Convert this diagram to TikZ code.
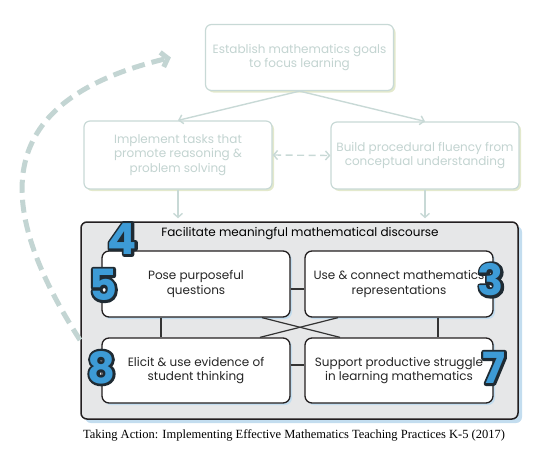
\documentclass[tikz,border=0pt]{standalone}
\usepackage{fontspec}
\setmainfont{Poppins}
\newfontfamily\capfont{Liberation Serif}
\usetikzlibrary{arrows.meta,shadows}

\definecolor{fadeline}{HTML}{C8D9D6}
\definecolor{fadetext}{HTML}{C3D4D1}
\definecolor{fadeshadow}{HTML}{E3E9CC}
\definecolor{loopcol}{HTML}{C3D5D3}
\definecolor{panelfill}{HTML}{E6E7E8}
\definecolor{panelline}{HTML}{231F20}
\definecolor{bluesh}{HTML}{C3DDEF}
\definecolor{digitblue}{HTML}{3D9BD6}

% filled digit with a dark stroked rim
\newcommand{\rimdigit}[1]{\rlap{\special{pdf:literal direct 2 Tr 5 w 1 j 0.12 0.17 0.2 RG}#1\special{pdf:literal direct 0 Tr}}#1}

\begin{document}
\begin{tikzpicture}[x=1pt, y=-1pt,
    every node/.style={font=\fontsize{12}{14.7}\selectfont},
    fadebox/.style={draw=fadeline, line width=1.2pt, rounded corners=6pt, fill=white,
        text=fadetext, align=center, minimum width=188pt, minimum height=66pt,
        drop shadow={shadow xshift=2pt, shadow yshift=-2pt, fill=fadeshadow, opacity=1}},
    fadearrow/.style={draw=fadeline, line width=1.4pt, -{Straight Barb[length=4pt, width=9pt]}},
    panel/.style={draw=panelline, line width=1.5pt, rounded corners=6pt, fill=panelfill,
        minimum width=437pt, minimum height=197pt,
        drop shadow={shadow xshift=4pt, shadow yshift=-4pt, fill=bluesh, opacity=1}},
    practice/.style={draw=panelline, line width=1.3pt, rounded corners=7pt, fill=white,
        text=black!85, align=center, minimum width=188pt, minimum height=66pt,
        drop shadow={shadow xshift=2pt, shadow yshift=-2pt, fill=bluesh, opacity=1}},
    link/.style={draw=black!80, line width=1.2pt},
    digit/.style={font=\fontsize{43}{43}\bfseries\selectfont, text=digitblue, inner sep=0pt}]
    \useasboundingbox (0,0) rectangle (552,474);

    % Faded top practices
    \node[fadebox] (goal) at (299.5,57.5) {Establish mathematics goals\\to focus learning};
    \node[fadebox, minimum height=68pt] (tasks) at (178,155) {Implement tasks that\\promote reasoning \&\\problem solving};
    \node[fadebox, minimum height=67pt] (fluency) at (425,155.5) {Build procedural fluency from\\conceptual understanding};

    % Discourse panel
    \node[panel] (discourse) at (299.5,320.5) {};
    \node (title) at (300,234) {Facilitate meaningful mathematical discourse};

    \node[practice] (pose) at (196,284) {Pose purposeful\\questions};
    \node[practice] (represent) at (399,284) {Use \& connect mathematics\\representations};
    \node[practice, minimum height=65pt] (elicit) at (196,370.5) {Elicit \& use evidence of\\student thinking};
    \node[practice, minimum height=65pt] (struggle) at (399,370.5) {Support productive struggle\\in learning mathematics};

    % Links inside the panel
    \draw[link] ([yshift=-5pt]pose.east) -- ([yshift=-5pt]represent.west);
    \draw[link] ([yshift=5.5pt]elicit.east) -- ([yshift=5.5pt]struggle.west);
    \draw[link] ([xshift=-35pt]pose.south) -- ([xshift=-35pt]elicit.north);
    \draw[link] ([xshift=39pt]represent.south) -- ([xshift=39pt]struggle.north);
    \draw[link] ([xshift=66pt]pose.south) -- ([xshift=-59pt]struggle.north);
    \draw[link] ([xshift=-61pt]represent.south) -- ([xshift=64pt]elicit.north);

    % Arrows between faded boxes
    \draw[fadearrow] (goal.south) -- (tasks.north);
    \draw[fadearrow] (goal.south) -- (fluency.north);
    \draw[fadearrow, {Straight Barb[length=4pt, width=9pt]}-{Straight Barb[length=4pt, width=9pt]},
        dash pattern=on 7pt off 4.5pt] (tasks.east) -- (fluency.west);
    \draw[fadearrow, shorten >=3pt] (tasks.south) -- (tasks.south |- discourse.north);
    \draw[fadearrow, shorten >=3pt] (fluency.south) -- (fluency.south |- discourse.north);

    % Loop back to the goals
    \coordinate (loopstart) at (80,340);
    \coordinate (loopend) at ([xshift=-34pt]goal.west);
    \draw[loopcol, line width=5pt, dash pattern=on 13pt off 7pt,
        -{Straight Barb[length=6pt, width=15pt]}]
        (loopstart) .. controls (-10,200) and (-5,100) .. (loopend);

    % Source
    \node[font=\capfont\fontsize{12.5}{14}\selectfont] (source) at (294,435)
        {Taking Action: Implementing Effective Mathematics Teaching Practices K-5 (2017)};

    % Practice numbers
    \node[digit] (n4) at (122.5,239) {\rimdigit{4}};
    \node[digit] (n5) at (103.5,285) {\rimdigit{5}};
    \node[digit] (n3) at (491,280) {\rimdigit{3}};
    \node[digit] (n8) at (101.5,367.5) {\rimdigit{8}};
    \node[digit] (n7) at (494,368) {\rimdigit{7}};
\end{tikzpicture}
\end{document}
